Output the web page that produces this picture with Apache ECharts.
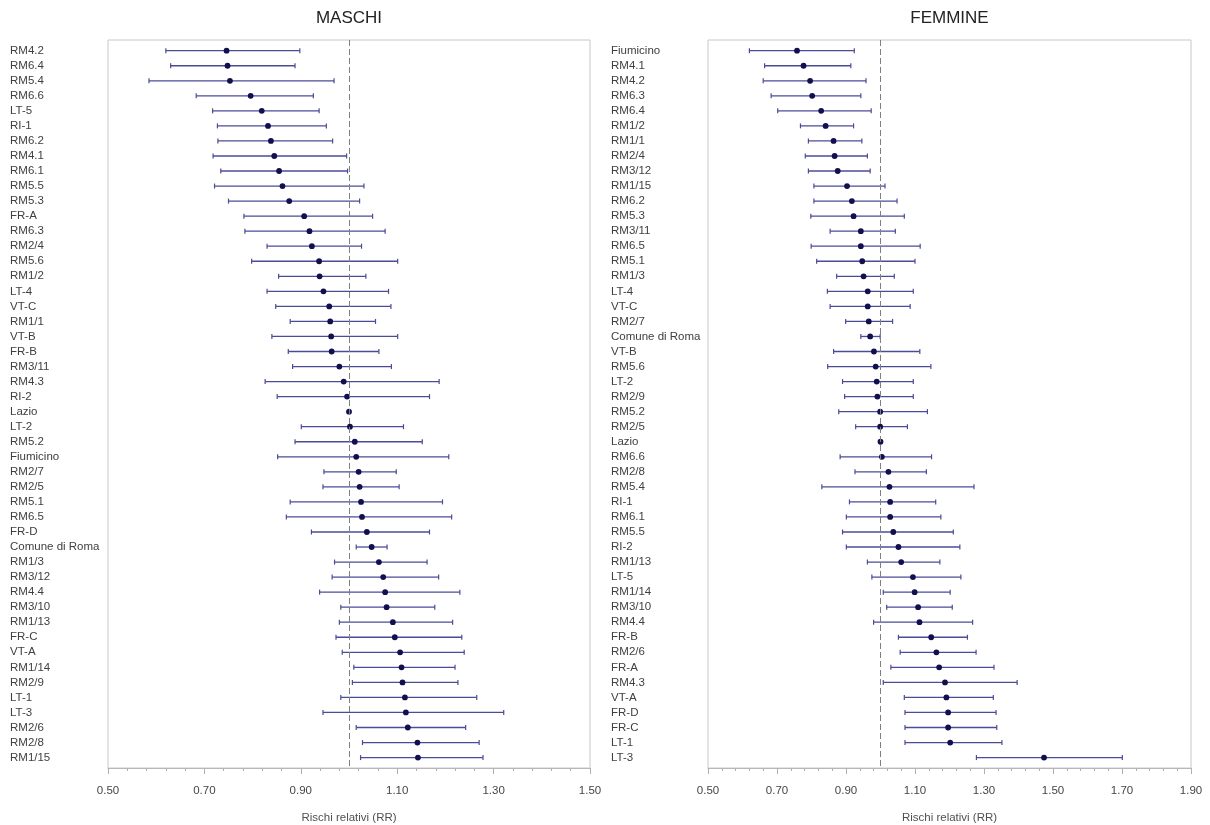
<!DOCTYPE html>
<html>
<head>
<meta charset="utf-8">
<script src="https://cdn.jsdelivr.net/npm/echarts@6/dist/echarts.min.js"></script>
<style>
html,body{margin:0;padding:0;background:#fff;}
#chart{width:1210px;height:825px;}
</style>
</head>
<body>
<div id="chart"></div>
<script>
// ---- MASCHI ----
const maleNames = ['RM4.2','RM6.4','RM5.4','RM6.6','LT-5','RI-1','RM6.2','RM4.1','RM6.1','RM5.5','RM5.3','FR-A','RM6.3','RM2/4','RM5.6','RM1/2','LT-4','VT-C','RM1/1','VT-B','FR-B','RM3/11','RM4.3','RI-2','Lazio','LT-2','RM5.2','Fiumicino','RM2/7','RM2/5','RM5.1','RM6.5','FR-D','Comune di Roma','RM1/3','RM3/12','RM4.4','RM3/10','RM1/13','FR-C','VT-A','RM1/14','RM2/9','LT-1','LT-3','RM2/6','RM2/8','RM1/15'];
const maleRR = [0.746,0.748,0.753,0.796,0.819,0.832,0.838,0.845,0.855,0.862,0.876,0.907,0.918,0.923,0.938,0.939,0.947,0.959,0.961,0.963,0.964,0.980,0.989,0.996,1.000,1.002,1.012,1.015,1.020,1.022,1.025,1.027,1.037,1.047,1.062,1.071,1.075,1.078,1.091,1.095,1.106,1.109,1.111,1.116,1.118,1.122,1.142,1.143];
const maleLo = [0.620,0.630,0.585,0.683,0.717,0.727,0.728,0.718,0.734,0.721,0.750,0.782,0.784,0.830,0.798,0.854,0.830,0.848,0.878,0.840,0.874,0.883,0.826,0.851,1.000,0.901,0.888,0.852,0.948,0.946,0.878,0.870,0.922,1.015,0.970,0.965,0.939,0.983,0.980,0.973,0.986,1.010,1.007,0.983,0.946,1.015,1.028,1.024];
const maleHi = [0.898,0.888,0.969,0.926,0.938,0.953,0.966,0.995,0.997,1.031,1.022,1.049,1.075,1.026,1.101,1.035,1.082,1.087,1.055,1.101,1.062,1.088,1.187,1.167,1.000,1.113,1.152,1.207,1.098,1.104,1.194,1.213,1.167,1.079,1.162,1.186,1.230,1.178,1.215,1.234,1.239,1.220,1.226,1.265,1.321,1.242,1.270,1.278];

// ---- FEMMINE ----
const femaleNames = ['Fiumicino','RM4.1','RM4.2','RM6.3','RM6.4','RM1/2','RM1/1','RM2/4','RM3/12','RM1/15','RM6.2','RM5.3','RM3/11','RM6.5','RM5.1','RM1/3','LT-4','VT-C','RM2/7','Comune di Roma','VT-B','RM5.6','LT-2','RM2/9','RM5.2','RM2/5','Lazio','RM6.6','RM2/8','RM5.4','RI-1','RM6.1','RM5.5','RI-2','RM1/13','LT-5','RM1/14','RM3/10','RM4.4','FR-B','RM2/6','FR-A','RM4.3','VT-A','FR-D','FR-C','LT-1','LT-3'];
const femaleRR = [0.758,0.777,0.796,0.802,0.828,0.841,0.864,0.867,0.876,0.903,0.917,0.922,0.943,0.943,0.947,0.951,0.963,0.963,0.966,0.970,0.981,0.986,0.989,0.991,0.999,0.999,1.000,1.004,1.023,1.026,1.028,1.028,1.037,1.052,1.060,1.094,1.099,1.109,1.113,1.147,1.162,1.170,1.187,1.191,1.196,1.196,1.202,1.474];
const femaleLo = [0.620,0.664,0.660,0.683,0.702,0.768,0.791,0.782,0.791,0.807,0.807,0.798,0.854,0.799,0.815,0.873,0.846,0.854,0.899,0.943,0.864,0.847,0.890,0.896,0.879,0.928,1.000,0.883,0.926,0.830,0.910,0.901,0.890,0.901,0.962,0.975,1.008,1.018,0.980,1.052,1.057,1.030,1.008,1.069,1.071,1.071,1.071,1.278];
const femaleHi = [0.924,0.914,0.958,0.943,0.973,0.922,0.946,0.962,0.970,1.013,1.048,1.069,1.043,1.115,1.100,1.040,1.095,1.086,1.035,0.999,1.114,1.146,1.095,1.095,1.136,1.078,1.000,1.148,1.133,1.271,1.160,1.175,1.211,1.230,1.172,1.233,1.202,1.208,1.267,1.252,1.277,1.329,1.396,1.327,1.335,1.337,1.352,1.701];

// ---- axes ----
const maleTicks = {min: 0.5, max: 1.5, interval: 0.2};
const femaleTicks = {min: 0.5, max: 1.9, interval: 0.2};
const panelTitles = ['MASCHI', 'FEMMINE'];
const axisTitle = 'Rischi relativi (RR)';

const FONT = 'Liberation Sans, Arial, sans-serif';
const BAR = '#4b4b98';
const DOT = '#10104e';

function rows(rr, lo, hi) {
  return rr.map((v, i) => [i, v, lo[i], hi[i]]);
}

function renderItem(params, api) {
  const idx = api.value(0);
  const l = api.value(2), h = api.value(3);
  const pL = api.coord([l, idx]);
  const pH = api.coord([h, idx]);
  const pC = api.coord([api.value(1), idx]);
  const children = [];
  if (h > l) {
    children.push({type: 'line', shape: {x1: pL[0], y1: pL[1], x2: pH[0], y2: pH[1]}, style: {stroke: BAR, lineWidth: 1.3}});
    children.push({type: 'line', shape: {x1: pL[0], y1: pL[1] - 2.5, x2: pL[0], y2: pL[1] + 2.5}, style: {stroke: BAR, lineWidth: 1.2}});
    children.push({type: 'line', shape: {x1: pH[0], y1: pH[1] - 2.5, x2: pH[0], y2: pH[1] + 2.5}, style: {stroke: BAR, lineWidth: 1.2}});
  }
  children.push({type: 'circle', shape: {cx: pC[0], cy: pC[1], r: 2.9}, style: {fill: DOT}});
  return {type: 'group', children};
}

const panels = [
  {left: 108, width: 482, names: maleNames, data: rows(maleRR, maleLo, maleHi), ticks: maleTicks},
  {left: 708, width: 483, names: femaleNames, data: rows(femaleRR, femaleLo, femaleHi), ticks: femaleTicks}
];

const BOX_TOP = 40, BOX_H = 728;
const ROW0 = 50.7, ROW_STEP = 15.04, N = 48;
const yMin = -(ROW0 - BOX_TOP) / ROW_STEP;
const yMax = yMin + BOX_H / ROW_STEP;

const grid = [], xAxis = [], yAxis = [], series = [], graphic = [];
panels.forEach((p, k) => {
  const gBox = grid.length;
  grid.push({left: p.left, top: BOX_TOP, width: p.width, height: BOX_H, show: true, borderColor: '#c8c8c8', borderWidth: 1, backgroundColor: '#fff', containLabel: false, outerBoundsMode: 'none'});
  xAxis.push({
    type: 'value', gridIndex: gBox, min: p.ticks.min, max: p.ticks.max, interval: p.ticks.interval,
    position: 'bottom',
    name: axisTitle, nameLocation: 'middle', nameGap: 44,
    nameTextStyle: {fontFamily: FONT, fontSize: 11.5, color: '#505050'},
    axisLine: {show: true, onZero: false, lineStyle: {color: '#b8b8b8'}},
    axisTick: {show: true, length: 6, lineStyle: {color: '#b0b0b0'}},
    minorTick: {show: true, splitNumber: 5, length: 3, lineStyle: {color: '#b0b0b0'}},
    splitLine: {show: false},
    axisLabel: {fontFamily: FONT, fontSize: 11.5, color: '#454545', margin: 17, formatter: v => v.toFixed(2), showMinLabel: true, showMaxLabel: true}
  });
  yAxis.push({type: 'value', gridIndex: gBox, min: yMin, max: yMax, inverse: true, show: false});
  series.push({
    type: 'custom', xAxisIndex: gBox, yAxisIndex: gBox, renderItem,
    encode: {x: [1, 2, 3], y: 0}, data: p.data, z: 3,
    markLine: {
      silent: true, symbol: 'none', label: {show: false},
      lineStyle: {color: '#808080', type: [6, 3], width: 1},
      data: [{xAxis: 1}]
    }
  });
  // label grid
  const gLab = grid.length;
  grid.push({left: p.left, top: ROW0 - ROW_STEP / 2, width: p.width, height: ROW_STEP * N, containLabel: false, outerBoundsMode: 'none'});
  xAxis.push({type: 'value', gridIndex: gLab, show: false});
  yAxis.push({
    type: 'category', gridIndex: gLab, data: p.names, inverse: true,
    axisLine: {show: false}, axisTick: {show: false},
    axisLabel: {align: 'left', margin: p.left - (k === 0 ? 10 : 611), fontFamily: FONT, fontSize: 11.5, color: '#404040', interval: 0}
  });
  graphic.push({type: 'text', x: p.left + p.width / 2, y: 18, style: {text: panelTitles[k], fontFamily: FONT, fontSize: 17, fill: '#222', align: 'center', verticalAlign: 'middle'}});
});

const chart = echarts.init(document.getElementById('chart'));
chart.setOption({animation: false, grid, xAxis, yAxis, series, graphic});
</script>
</body>
</html>
